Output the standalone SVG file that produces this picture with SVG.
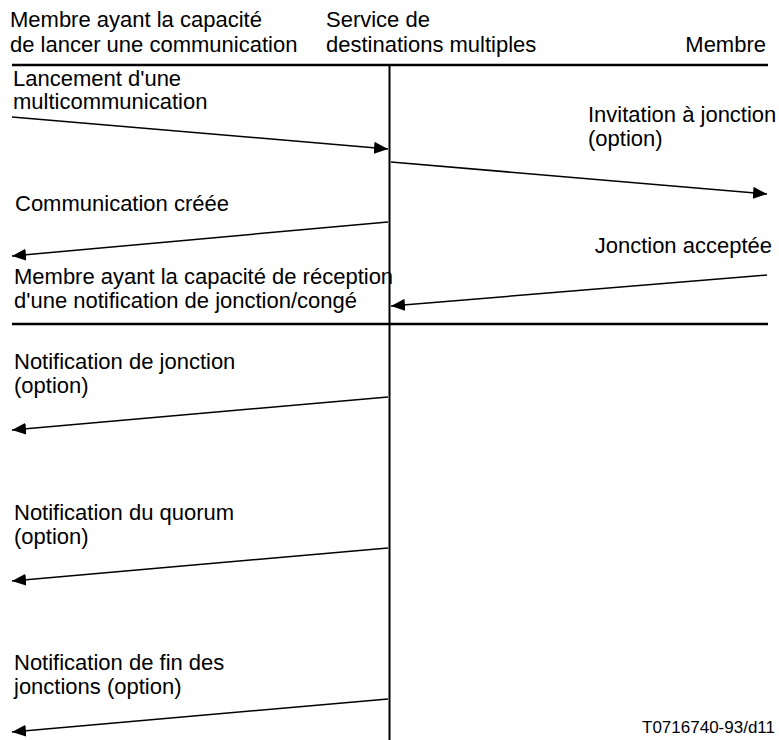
<svg xmlns="http://www.w3.org/2000/svg" width="779" height="740" viewBox="0 0 779 740">
<style>
text{font-family:"Liberation Sans",Arial,sans-serif;font-size:22px;fill:#000}
.small{font-size:17px}
.rule{stroke:#000;stroke-width:2.5;fill:none}
.life{stroke:#000;stroke-width:2;fill:none}
.msg{stroke:#000;stroke-width:1.5;fill:none;marker-end:url(#ah)}
</style>
<defs>
<marker id="ah" viewBox="0 0 14 12" refX="14" refY="6" markerWidth="14" markerHeight="12" markerUnits="userSpaceOnUse" orient="auto">
<path d="M0,0 L14,6 L0,12 z" fill="#000"/>
</marker>
</defs>
<rect width="779" height="740" fill="#fff"/>
<g id="initiator">
<text x="10" y="27">Membre ayant la capacité</text>
<text x="10" y="52">de lancer une communication</text>
</g>
<g id="service">
<text x="326" y="27">Service de</text>
<text x="326" y="52">destinations multiples</text>
<line class="life" x1="389.5" y1="65" x2="389.5" y2="740"/>
</g>
<g id="member">
<text x="766" y="52" text-anchor="end">Membre</text>
</g>
<g id="separators">
<line class="rule" x1="12" y1="65" x2="768" y2="65"/>
<line class="rule" x1="12" y1="324" x2="768" y2="324"/>
</g>
<g id="receiver">
<text x="14" y="284">Membre ayant la capacité de réception</text>
<text x="14" y="308">d'une notification de jonction/congé</text>
</g>
<g id="connectors">
<line class="msg" x1="12" y1="117" x2="388" y2="149"/>
<line class="msg" x1="391" y1="162" x2="767" y2="194"/>
<line class="msg" x1="388" y1="222" x2="12" y2="256"/>
<line class="msg" x1="767" y1="275" x2="391" y2="306"/>
<line class="msg" x1="388" y1="397" x2="12" y2="430"/>
<line class="msg" x1="388" y1="548" x2="12" y2="581"/>
<line class="msg" x1="388" y1="699" x2="12" y2="732"/>
</g>
<g id="labels">
<text x="13" y="86">Lancement d'une</text>
<text x="13" y="109">multicommunication</text>
<text x="588" y="122">Invitation à jonction</text>
<text x="588" y="146">(option)</text>
<text x="15" y="211">Communication créée</text>
<text x="772" y="253" text-anchor="end">Jonction acceptée</text>
<text x="14" y="369">Notification de jonction</text>
<text x="14" y="393">(option)</text>
<text x="14" y="520">Notification du quorum</text>
<text x="14" y="544">(option)</text>
<text x="14" y="670">Notification de fin des</text>
<text x="14" y="694">jonctions (option)</text>
<text class="small" x="775" y="733" text-anchor="end">T0716740-93/d11</text>
</g>
</svg>
